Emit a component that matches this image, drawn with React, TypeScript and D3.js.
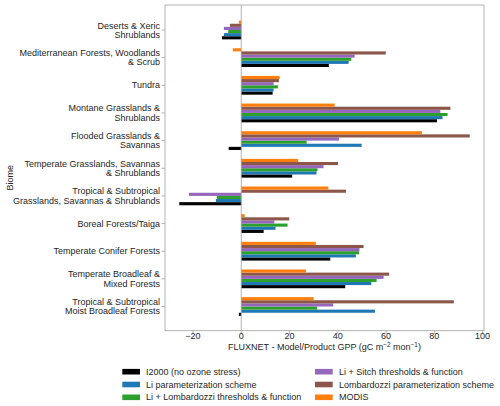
import React from "react";
import * as d3 from "d3";

const biomes: string[][] = [
  ["Deserts & Xeric", "Shrublands"],
  ["Mediterranean Forests, Woodlands", "& Scrub"],
  ["Tundra"],
  ["Montane Grasslands &", "Shrublands"],
  ["Flooded Grasslands &", "Savannas"],
  ["Temperate Grasslands, Savannas", "& Shrublands"],
  ["Tropical & Subtropical", "Grasslands, Savannas & Shrublands"],
  ["Boreal Forests/Taiga"],
  ["Temperate Conifer Forests"],
  ["Temperate Broadleaf &", "Mixed Forests"],
  ["Tropical & Subtropical", "Moist Broadleaf Forests"],
];

const seriesNames = [
  "I2000 (no ozone stress)",
  "Li parameterization scheme",
  "Li + Lombardozzi thresholds & function",
  "Li + Sitch thresholds & function",
  "Lombardozzi parameterization scheme",
  "MODIS",
];
const seriesColors = ["#000000", "#1f77b4", "#2ca02c", "#9467bd", "#8c564b", "#ff7f0e"];

const i2000 = [-8.0, 36.3, 13.0, 81.1, -5.2, 21.1, -25.7, 9.3, 36.9, 43.1, -1.0];
const liScheme = [-7.2, 44.5, 13.4, 83.4, 49.9, 31.2, -10.5, 14.2, 47.5, 53.9, 55.4];
const liLombardozzi = [-5.4, 45.6, 15.2, 85.5, 27.1, 31.6, -10.1, 19.2, 48.8, 56.1, 31.4];
const liSitch = [-7.2, 47.0, 13.4, 82.5, 40.5, 34.1, -21.7, 13.7, 49.0, 59.0, 38.1];
const lombardozzi = [-4.7, 59.9, 15.6, 86.7, 94.7, 40.1, 43.4, 19.9, 50.7, 61.3, 88.1];
const modis = [-1.0, -3.5, 15.9, 38.7, 74.9, 23.6, 36.1, 1.4, 30.9, 26.8, 30.0];

const series = [i2000, liScheme, liLombardozzi, liSitch, lombardozzi, modis];
const xTicks = [-20, 0, 20, 40, 60, 80, 100];

export default function App() {
  const W = 500, H = 406;
  const left = 165, right = 484, top = 5, bottom = 330.7;
  const x = d3.scaleLinear().domain([-31.6, 100.6]).range([left, right]);
  const y = d3.scaleLinear().domain([-0.904, 10.875]).range([top, bottom]);
  const barH = 0.113;
  const font = "'Liberation Sans', Arial, sans-serif";
  const fs = 9;
  const lh = 9.2;
  const axisColor = "#a0a0a0";
  const textColor = "#262626";

  return (
    <svg width={W} height={H} style={{ position: "absolute", left: 0, top: 0 }} fontFamily={font}>
      <rect width={W} height={H} fill="#fff" />
      {series.map((vals, j) =>
        vals.map((v, i) => {
          const y0 = y(i + (2.5 - j) * barH - barH / 2);
          const y1 = y(i + (2.5 - j) * barH + barH / 2);
          return (
            <rect
              key={`${j}-${i}`}
              x={Math.min(x(0), x(v))}
              y={y0}
              width={Math.abs(x(v) - x(0))}
              height={y1 - y0}
              fill={seriesColors[j]}
            />
          );
        })
      )}
      <line x1={x(0)} x2={x(0)} y1={top} y2={bottom} stroke={axisColor} strokeWidth={0.8} />
      <rect x={left} y={top} width={right - left} height={bottom - top} fill="none" stroke={axisColor} strokeWidth={0.8} />
      {xTicks.map((t) => (
        <g key={t}>
          <line x1={x(t)} x2={x(t)} y1={bottom} y2={bottom + 3} stroke={axisColor} strokeWidth={0.8} />
          <text x={x(t)} y={bottom + 2.4} dy="0.71em" textAnchor="middle" fontSize={fs} fill={textColor}>
            {t < 0 ? "\u2212" + Math.abs(t) : t}
          </text>
        </g>
      ))}
      {biomes.map((lines, i) => (
        <g key={i}>
          <line x1={left - 3.5} x2={left} y1={y(i)} y2={y(i)} stroke={axisColor} strokeWidth={0.8} />
          <text x={left - 5} textAnchor="end" fontSize={fs} fill={textColor}>
            {lines.map((l, k) => (
              <tspan key={k} x={left - 5} y={y(i) + (k - (lines.length - 1) / 2) * lh} dy="0.35em">
                {l}
              </tspan>
            ))}
          </text>
        </g>
      ))}
      <text x={(left + right) / 2} y={350.3} textAnchor="middle" fontSize={fs} fill={textColor}>
        FLUXNET - Model/Product GPP (gC m<tspan dy="-3.3" fontSize={6.4}>{"\u22122"}</tspan><tspan dy="3.3"> mon</tspan><tspan dy="-3.3" fontSize={6.4}>{"\u22121"}</tspan><tspan dy="3.3">)</tspan>
      </text>
      <text transform={`translate(9.5,${(top + bottom) / 2 + 10}) rotate(-90)`} textAnchor="middle" dy="0.35em" fontSize={fs} fill={textColor}>
        Biome
      </text>
      {seriesNames.map((name, j) => {
        const col = Math.floor(j / 3);
        const row = j % 3;
        const px = col === 0 ? 122.3 : 315;
        const py = 371.7 + row * 12.8;
        return (
          <g key={name}>
            <rect x={px} y={py - 2.8} width={17.7} height={5.6} fill={seriesColors[j]} />
            <text x={col === 0 ? 146 : 339} y={py} dy="0.35em" fontSize={fs} fill={textColor}>
              {name}
            </text>
          </g>
        );
      })}
    </svg>
  );
}
